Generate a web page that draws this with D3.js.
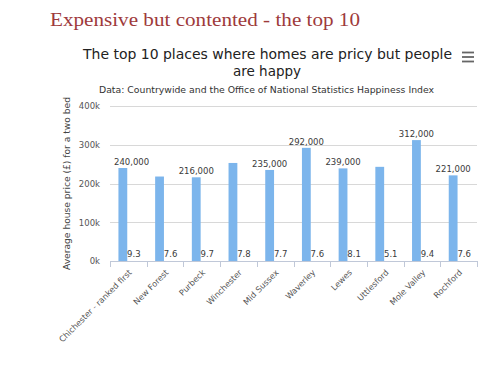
<!DOCTYPE html>
<html>
<head>
<meta charset="utf-8">
<script src="https://cdn.jsdelivr.net/npm/d3@7"></script>
<style>
  html, body { margin: 0; padding: 0; background: #fff; }
  svg { display: block; }
</style>
</head>
<body>
<svg id="chart" width="500" height="379"></svg>
<script>
const categories = ["Chichester - ranked first", "New Forest", "Purbeck", "Winchester", "Mid Sussex",
  "Waverley", "Lewes", "Uttlesford", "Mole Valley", "Rochford"];
const prices = [240000, 218000, 216000, 253000, 235000, 292000, 239000, 243000, 312000, 221000];
const priceLabelShown = [true, false, true, false, true, true, true, false, true, true];
const happiness = [9.3, 7.6, 9.7, 7.8, 7.7, 7.6, 8.1, 5.1, 9.4, 7.6];
const yTicks = [0, 100000, 200000, 300000, 400000];
const headerText = "Expensive but contented - the top 10";
const titleLines = ["The top 10 places where homes are pricy but people", "are happy"];
const subtitleText = "Data: Countrywide and the Office of National Statistics Happiness Index";
const yAxisTitle = "Average house price (£) for a two bed";

const svg = d3.select("#chart");
const font = "'DejaVu Sans', sans-serif";
const plot = { left: 110, right: 477, top: 106, bottom: 261 };

// Header
svg.append("text").attr("x", 50).attr("y", 26)
  .attr("font-family", "'Liberation Serif', 'DejaVu Serif', serif")
  .attr("font-size", 19.5).attr("fill", "#9e3a3b")
  .attr("textLength", 310).attr("lengthAdjust", "spacingAndGlyphs")
  .text(headerText);

// Title
svg.append("text").attr("x", 267.5).attr("y", 59).attr("text-anchor", "middle")
  .attr("font-family", font).attr("font-size", 13.5).attr("fill", "#222")
  .attr("textLength", 369).attr("lengthAdjust", "spacingAndGlyphs")
  .text(titleLines[0]);
svg.append("text").attr("x", 267).attr("y", 76).attr("text-anchor", "middle")
  .attr("font-family", font).attr("font-size", 13.5).attr("fill", "#222")
  .text(titleLines[1]);

// Subtitle
svg.append("text").attr("x", 266.5).attr("y", 93).attr("text-anchor", "middle")
  .attr("font-family", font).attr("font-size", 8.5).attr("fill", "#333")
  .attr("textLength", 335).attr("lengthAdjust", "spacingAndGlyphs")
  .text(subtitleText);

// Hamburger menu
[52.5, 57, 61.5].forEach(yy => {
  svg.append("line").attr("x1", 462).attr("x2", 474).attr("y1", yy).attr("y2", yy)
    .attr("stroke", "#666").attr("stroke-width", 1.8);
});

// Scales
const x = d3.scaleBand().domain(categories).range([plot.left, plot.right]).padding(0);
const y = d3.scaleLinear().domain([0, 400000]).range([plot.bottom, plot.top]);
const groupPad = 0.2, pointPad = 0.1;
const inner = d3.scaleBand().domain(["price", "happy"])
  .range([x.bandwidth() * groupPad, x.bandwidth() * (1 - groupPad)]).padding(0);
const barW = inner.bandwidth() * (1 - 2 * pointPad);
const barOff = s => inner(s) + inner.bandwidth() * pointPad;

// Gridlines
svg.append("g").selectAll("line").data(yTicks.filter(t => t > 0)).join("line")
  .attr("x1", plot.left).attr("x2", plot.right)
  .attr("y1", d => Math.round(y(d)) + 0.5).attr("y2", d => Math.round(y(d)) + 0.5)
  .attr("stroke", "#d8d8d8").attr("stroke-width", 1);

// Y axis
const yAxis = svg.append("g").attr("transform", `translate(${plot.left - 10},0)`)
  .call(d3.axisLeft(y).tickValues(yTicks).tickSize(0).tickFormat(d => (d / 1000) + "k"));
yAxis.select(".domain").remove();
yAxis.selectAll("text").attr("font-family", font).attr("font-size", 8.5).attr("fill", "#555")
  .attr("x", 0).attr("dy", "0.35em");

// Y axis title
svg.append("text")
  .attr("transform", `translate(70,${(97 + 270) / 2}) rotate(-90)`)
  .attr("text-anchor", "middle").attr("font-family", font).attr("font-size", 8.5).attr("fill", "#444")
  .attr("textLength", 173).attr("lengthAdjust", "spacingAndGlyphs")
  .text(yAxisTitle);

// X axis line + boundary ticks
svg.append("line").attr("x1", plot.left).attr("x2", plot.right)
  .attr("y1", plot.bottom + 0.5).attr("y2", plot.bottom + 0.5)
  .attr("stroke", "#c0c8d8").attr("stroke-width", 1);
const boundaries = categories.map(c => x(c)).concat([x.range()[1]]);
svg.append("g").selectAll("line").data(boundaries).join("line")
  .attr("x1", d => Math.round(d) + 0.5).attr("x2", d => Math.round(d) + 0.5)
  .attr("y1", plot.bottom).attr("y2", plot.bottom + 6)
  .attr("stroke", "#c0c8d8").attr("stroke-width", 1);

// X labels
const xAxis = svg.append("g").attr("transform", `translate(0,${plot.bottom})`)
  .call(d3.axisBottom(x).tickSize(0).tickFormat(d => d));
xAxis.select(".domain").remove();
xAxis.selectAll("text")
  .attr("font-family", font).attr("font-size", 8.2).attr("fill", "#555")
  .attr("text-anchor", "end").attr("y", 0).attr("dy", 0)
  .attr("transform", "translate(4,12) rotate(-45)");

// Bars
svg.append("g").selectAll("rect").data(categories).join("rect")
  .attr("x", (d) => x(d) + barOff("price"))
  .attr("y", (d, i) => y(prices[i]))
  .attr("width", barW)
  .attr("height", (d, i) => y(0) - y(prices[i]))
  .attr("fill", "#7cb5ec");

// Happiness series bars (tiny)
svg.append("g").selectAll("rect").data(categories).join("rect")
  .attr("x", (d) => x(d) + barOff("happy"))
  .attr("y", (d, i) => y(happiness[i]))
  .attr("width", barW)
  .attr("height", (d, i) => Math.max(0, y(0) - y(happiness[i])))
  .attr("fill", "#434348");

// Price value labels
const priceLabels = svg.append("g");
categories.forEach((c, i) => {
  if (!priceLabelShown[i]) return;
  const cx = x(c) + barOff("price") + barW / 2;
  const t = priceLabels.append("text")
    .attr("x", cx).attr("y", y(prices[i]) - 3)
    .attr("text-anchor", "middle").attr("font-family", font).attr("font-size", 8.5)
    .attr("fill", "#3a3a3a").text(d3.format(",")(prices[i]));
  const b = t.node().getBBox();
  if (b.x < plot.left + 4) t.attr("x", cx + (plot.left + 4 - b.x));
});

// Happiness labels
svg.append("g").selectAll("text").data(categories).join("text")
  .attr("x", d => x(d) + barOff("happy") + barW / 2)
  .attr("y", (d, i) => y(happiness[i]) - 3.5)
  .attr("text-anchor", "middle").attr("font-family", font).attr("font-size", 8.5)
  .attr("fill", "#3a3a3a").text((d, i) => happiness[i]);
</script>
</body>
</html>
